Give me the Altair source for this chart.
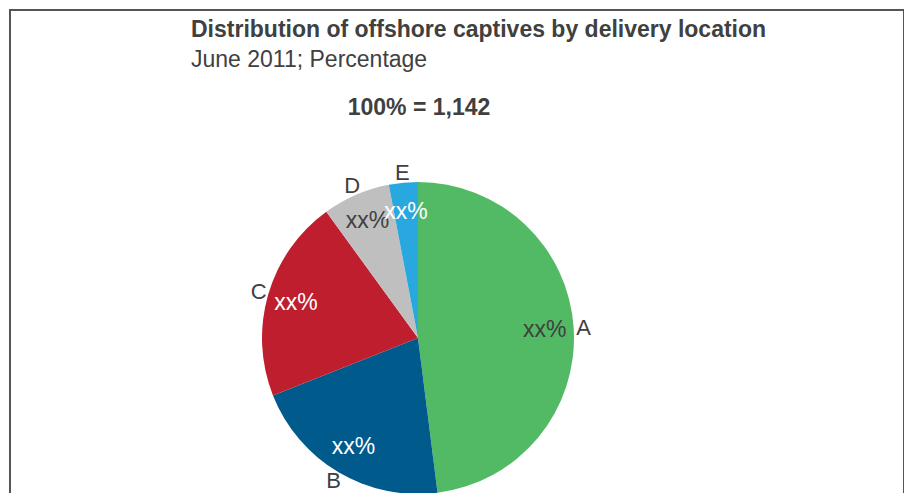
import altair as alt
import pandas as pd

categories = ["A", "B", "C", "D", "E"]
shares = [48, 21, 21, 7, 3]
value_labels = ["xx%", "xx%", "xx%", "xx%", "xx%"]
slice_colors = ["#52BA65", "#005A8C", "#BE1E2D", "#BFBFBF", "#29A8E0"]
value_text_colors = ["#404040", "#FFFFFF", "#FFFFFF", "#404040", "#FFFFFF"]

title_text = "Distribution of offshore captives by delivery location"
subtitle_text = "June 2011; Percentage"
total_text = "100% = 1,142"

df = pd.DataFrame({
    "cat": categories,
    "share": shares,
    "vlabel": value_labels,
    "tcolor": value_text_colors,
    "idx": list(range(len(categories))),
})

FONT = "Liberation Sans"
CX, CY = 409, 329
W, H = 896, 485

base = alt.Chart(df).encode(
    theta=alt.Theta("share:Q", stack=True),
    order=alt.Order("idx:Q"),
)

pie = base.mark_arc(outerRadius=156).encode(
    color=alt.Color("cat:N", scale=alt.Scale(domain=categories, range=slice_colors), legend=None),
    x=alt.value(CX), y=alt.value(CY),
)

vals = base.mark_text(radius=127, font=FONT, fontSize=23, align="center", baseline="middle").encode(
    text="vlabel:N",
    color=alt.Color("tcolor:N", scale=None),
    x=alt.value(CX), y=alt.value(CY),
)

cats = base.mark_text(radius=166, font=FONT, fontSize=22, align="center", baseline="middle", color="#404040").encode(
    text="cat:N",
    x=alt.value(CX), y=alt.value(CY),
)

title = alt.Chart(pd.DataFrame({"t": [title_text]})).mark_text(
    font=FONT, fontSize=23, fontWeight="bold", align="left", baseline="middle", color="#404040"
).encode(text="t:N", x=alt.value(182), y=alt.value(21))
sub = alt.Chart(pd.DataFrame({"t": [subtitle_text]})).mark_text(
    font=FONT, fontSize=23, align="left", baseline="middle", color="#404040"
).encode(text="t:N", x=alt.value(182), y=alt.value(51))
tot = alt.Chart(pd.DataFrame({"t": [total_text]})).mark_text(
    font=FONT, fontSize=23, fontWeight="bold", align="center", baseline="middle", color="#404040"
).encode(text="t:N", x=alt.value(410), y=alt.value(99))

frame_df = pd.DataFrame({"k": [0]})
top = alt.Chart(frame_df).mark_rule(color="#555555", strokeWidth=2).encode(
    x=alt.value(0), x2=alt.value(W - 1), y=alt.value(1))
left = alt.Chart(frame_df).mark_rule(color="#555555", strokeWidth=2).encode(
    x=alt.value(1), y=alt.value(0), y2=alt.value(H))
right = alt.Chart(frame_df).mark_rule(color="#555555", strokeWidth=2).encode(
    x=alt.value(W - 1), y=alt.value(0), y2=alt.value(H))

chart = alt.layer(pie, vals, cats, title, sub, tot, top, left, right).properties(
    width=W, height=H, padding=0,
    autosize=alt.AutoSizeParams(type="fit", contains="padding"),
).configure_view(stroke=None)

chart.save("out.html", embed_options={"renderer": "svg", "actions": False})
